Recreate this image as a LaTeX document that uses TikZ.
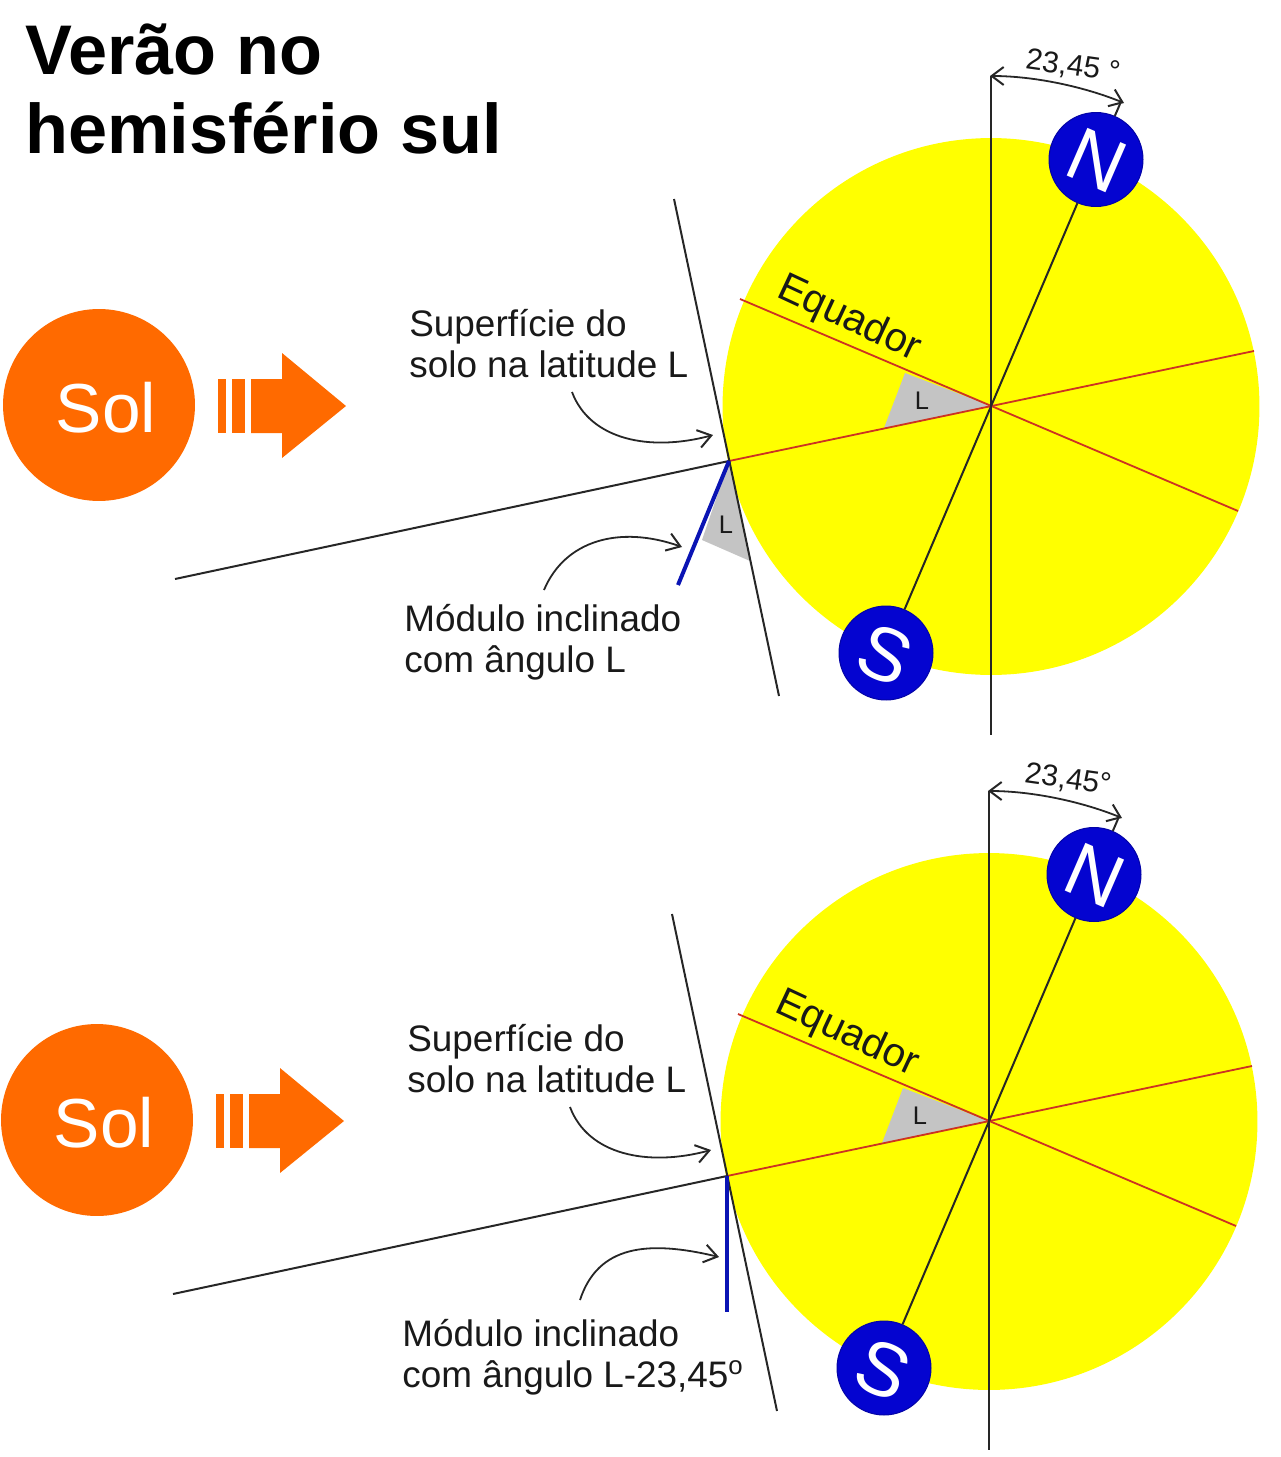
\documentclass[tikz,border=0pt]{standalone}
\usepackage{fontspec}
\setmainfont{Liberation Sans}
\usetikzlibrary{arrows.meta}
\definecolor{sunor}{HTML}{FF6A00}
\definecolor{earthy}{HTML}{FFFF00}
\definecolor{poleb}{HTML}{0404D0}
\definecolor{eqred}{HTML}{CC3322}
\definecolor{tilegray}{HTML}{C4C4C4}
\definecolor{modblue}{HTML}{0A14B4}
\tikzset{
  thin line/.style={draw=black!85,line width=0.04cm},
  redline/.style={draw=eqred,line width=0.036cm},
  callout/.style={draw=black!85,line width=0.036cm,-{Straight Barb[length=2.6mm,width=3.6mm,line width=0.04cm]}},
  dim/.style={draw=black!85,line width=0.036cm,{Straight Barb[length=2.4mm,width=3.6mm,line width=0.04cm]}-{Straight Barb[length=2.4mm,width=3.6mm,line width=0.04cm]}},
  txt/.style={inner sep=0pt,align=left,anchor=north west,font=\fontsize{21pt}{23.6pt}\selectfont,text=black!90},
  pole/.style={circle,fill=poleb,draw=poleb!80!black,line width=0.02cm,minimum size=1.88cm,inner sep=0pt},
  polelabel/.style={inner sep=0pt,text=white,font=\fontsize{43pt}{43pt}\selectfont,rotate=-23.45},
  small/.style={inner sep=0pt,font=\fontsize{14.5pt}{14.5pt}\selectfont,text=black!90},
  orangebar/.style={fill=sunor,draw=none},
  sunlabel/.style={inner sep=0pt,text=white,font=\fontsize{39.5pt}{39.5pt}\selectfont},
}
\newcommand{\panelbase}[2]{%
  \node[circle,fill=earthy,minimum size=10.74cm,inner sep=0pt] (earth#1) at (991,406.5) {};
  \coordinate (c#1) at (991,406);
  \coordinate (ve#1) at (740,299);
  \coordinate (vf#1) at (1238,511);
  \coordinate (ga#1) at (729,461);
  \coordinate (gb#1) at (1254,351);
  \coordinate (sa#1) at (175,579);
  \coordinate (st#1) at (674,199);
  \coordinate (sb#1) at (779,696);
  \coordinate (vt#1) at (991,76);
  \coordinate (vb#1) at (991,735);
  \coordinate (axt#1) at (1120,104);
  \fill[tilegray] (905,373) -- (884,428) -- (c#1) -- cycle;
  #2
  \draw[redline] (ve#1) -- (vf#1);
  \draw[redline] (ga#1) -- (gb#1);
  \draw[thin line] (sa#1) -- (ga#1);
  \draw[thin line] (st#1) -- (sb#1);
  \draw[thin line] (vt#1) -- (vb#1);
  \node[pole] (n#1) at (1096,159.5) {};
  \node[polelabel] (nl#1) at (1097,161) {N};
  \node[pole] (s#1) at (886,653) {};
  \node[polelabel] (sl#1) at (885,655) {S};
  \draw[thin line] (axt#1) -- (n#1);
  \draw[thin line] (n#1) -- (s#1);
  \node[small] (l#1) at (922,401) {L};
  \node[inner sep=0pt,rotate=-25,font=\fontsize{23pt}{23pt}\selectfont,text=black!90] (eq#1) at (849,319) {Equador};
  \node[circle,fill=sunor,minimum size=3.84cm,inner sep=0pt] (sun#1) at (99,405) {};
  \node[sunlabel] (sunl#1) at (106,408) {Sol};
  \fill[orangebar] (218,379) rectangle (226,433);
  \fill[orangebar] (232,379) rectangle (245,433);
  \fill[orangebar] (251,379) -- (282,379) -- (282,353) -- (346,406) -- (282,458) -- (282,433) -- (251,433) -- cycle;
  \node[txt] (surf#1) at (409,309) {Superfície do\\solo na latitude L};
  \coordinate (ca#1) at (572,392);
  \coordinate (cb#1) at (713,435);
  \draw[callout] (ca#1) .. controls (590,440) and (650,452) .. (cb#1);
  \coordinate (da#1) at (990,76);
  \coordinate (db#1) at (1124,103);
  \draw[dim] (da#1) .. controls (1035,76) and (1085,87) .. (db#1);
}
\begin{document}
\begin{tikzpicture}[x=0.02cm,y=-0.02cm]
\useasboundingbox (0,0) rectangle (1281,1457);
\node[inner sep=0pt,anchor=north west,align=left,font=\bfseries\fontsize{40pt}{45.5pt}\selectfont] (title) at (25,23) {Verão no\\hemisfério sul};
\begin{scope}
  \panelbase{a}{\fill[tilegray] (729,461) -- (702,540) -- (750,561) -- cycle;}
  \coordinate (ma) at (678,585);
  \draw[draw=modblue,line width=0.08cm] (gaa) -- (ma);
  \node[small] (lower) at (726,525) {L};
  \coordinate (pa) at (544,590);
  \coordinate (pb) at (682,547);
  \draw[callout] (pa) .. controls (565,540) and (620,525) .. (pb);
  \node[txt] (moda) at (404,604) {Módulo inclinado\\com ângulo L};
  \node[inner sep=0pt,rotate=-8,font=\fontsize{17pt}{17pt}\selectfont,text=black!90] (anga) at (1073,67) {23,45 °};
\end{scope}
\begin{scope}[shift={(-2,715)}]
  \panelbase{b}{}
  \coordinate (mb) at (729,597);
  \draw[draw=modblue,line width=0.08cm] (gab) -- (mb);
  \coordinate (qa) at (582,585);
  \coordinate (qb) at (721,542);
  \draw[callout] (qa) .. controls (600,530) and (650,525) .. (qb);
  \node[txt] (modb) at (404,604) {Módulo inclinado\\com ângulo L-23,45\textsuperscript{o}};
  \node[inner sep=0pt,rotate=-8,font=\fontsize{17pt}{17pt}\selectfont,text=black!90] (angb) at (1070,65) {23,45°};
\end{scope}
\end{tikzpicture}
\end{document}
